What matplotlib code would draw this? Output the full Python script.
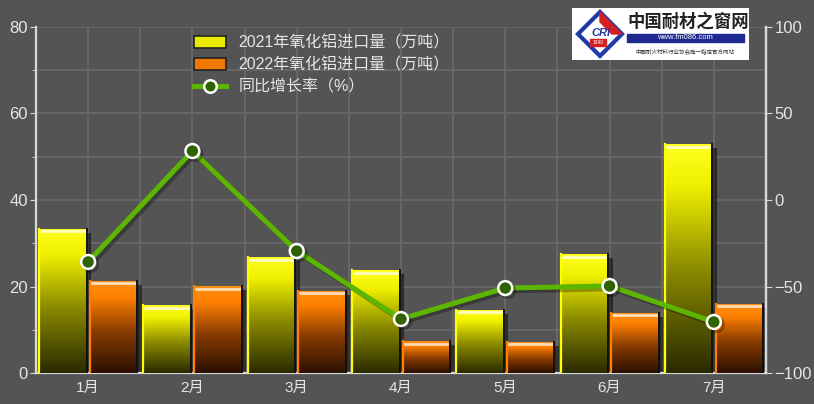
import numpy as np
import matplotlib.pyplot as plt
import matplotlib.patheffects as pe
import matplotlib.transforms as mtransforms
from matplotlib.colors import LinearSegmentedColormap
from matplotlib.patches import Rectangle, Polygon, Patch
from matplotlib.lines import Line2D

months = ['1月', '2月', '3月', '4月', '5月', '6月', '7月']
import_2021 = [33.3, 15.7, 26.8, 23.8, 14.6, 27.5, 52.9]   # 万吨
import_2022 = [21.3, 20.1, 19.0, 7.4, 7.2, 13.9, 16.0]     # 万吨
growth = [-35.8, 28.3, -29.5, -68.8, -50.9, -49.7, -70.5]  # %

label_2021 = '2021年氧化铝进口量（万吨）'
label_2022 = '2022年氧化铝进口量（万吨）'
label_growth = '同比增长率（%）'

plt.rcParams['font.family'] = ['Liberation Sans', 'Noto Sans CJK SC', 'DejaVu Sans']

bg = '#545454'
grid_c = '#666666'
text_c = '#e6e6e6'
axis_c = '#d8d8d8'

yellow_cmap = LinearSegmentedColormap.from_list(
    'yel', [(0, '#2a2a00'), (0.45, '#8a8a00'), (0.82, '#f0f000'), (1, '#ffff20')])
orange_cmap = LinearSegmentedColormap.from_list(
    'org', [(0, '#2a1000'), (0.45, '#8a3c00'), (0.82, '#ff8000'), (1, '#ff9010')])

fig = plt.figure(figsize=(8.14, 4.04), dpi=100, facecolor=bg)
ax = fig.add_axes([0.0442, 0.0767, 0.8968, 0.8565])
ax.set_facecolor(bg)

x = np.arange(len(months))
w = 0.465
grad = np.linspace(0, 1, 256).reshape(-1, 1)
shadow = [pe.SimplePatchShadow(offset=(3, -3), shadow_rgbFace='black', alpha=0.5), pe.Normal()]
hl = mtransforms.offset_copy(ax.transData, fig=fig, x=0, y=-2.5, units='dots')


def gradient_bars(xpos, values, cmap, edge):
    bars = ax.bar(xpos, values, width=w, color=cmap(0.5), edgecolor='none',
                  zorder=2, path_effects=shadow)
    for b in bars:
        x0, h, bw = b.get_x(), b.get_height(), b.get_width()
        im = ax.imshow(grad, cmap=cmap, origin='lower', aspect='auto',
                       extent=[x0, x0 + bw, 0, h], zorder=3)
        im.set_clip_path(b)
        ax.plot([x0 + 0.01, x0 + bw - 0.01], [h, h], color='white', lw=2,
                alpha=0.7, transform=hl, zorder=4, solid_capstyle='butt')
        ax.plot([x0 + 0.006, x0 + 0.006], [0, h], color=edge, lw=1.6, zorder=4)
        ax.plot([x0 + bw - 0.004, x0 + bw - 0.004], [0, h], color='#111111',
                lw=1.4, zorder=4)


gradient_bars(x - w / 2 - 0.01, import_2021, yellow_cmap, '#ffff00')
gradient_bars(x + w / 2 + 0.01, import_2022, orange_cmap, '#ff8000')

ax.set_xlim(-0.5, len(months) - 0.5)
ax.set_ylim(0, 80)
ax.set_yticks([0, 20, 40, 60, 80])
ax.set_yticks(np.arange(0, 81, 10), minor=True)
ax.set_xticks(x)
ax.set_xticklabels(months)
ax.set_xticks(np.arange(0.5, len(months) - 0.5, 1), minor=True)
ax.grid(True, which='both', color=grid_c, lw=1.5, zorder=0)
ax.set_axisbelow(True)
ax.tick_params(axis='x', which='both', length=0, colors=text_c, labelsize=11, pad=6)
ax.tick_params(axis='y', which='major', length=4, color=axis_c, labelcolor=text_c,
               labelsize=12, pad=2)
ax.tick_params(axis='y', which='minor', length=3, color=axis_c)

ax.spines['top'].set_visible(False)
for s in ['left', 'bottom', 'right']:
    ax.spines[s].set_color(axis_c)
    ax.spines[s].set_linewidth(1.6)

ax2 = ax.twinx()
ax2.set_ylim(-100, 100)
ax2.set_yticks([-100, -50, 0, 50, 100])
ax2.tick_params(axis='y', length=4, color=axis_c, labelcolor=text_c, labelsize=12, pad=2)
for s in ['top', 'left', 'bottom']:
    ax2.spines[s].set_visible(False)
ax2.spines['right'].set_color(axis_c)
ax2.spines['right'].set_linewidth(1.6)
ax2.plot(x, growth, color='#5cb500', lw=3.6, marker='o', ms=10,
         mfc='#2f6200', mec='white', mew=1.8, zorder=5,
         path_effects=[pe.SimpleLineShadow(offset=(2, -2), alpha=0.3), pe.Normal()])

handles = [
    Patch(facecolor='#eaea00', edgecolor='#222222', lw=1.2),
    Patch(facecolor='#f07800', edgecolor='#222222', lw=1.2),
    Line2D([0], [0], color='#5cb500', lw=3.6, marker='o', ms=9,
           mfc='#2f6200', mec='white', mew=1.8),
]
leg = fig.legend(handles, [label_2021, label_2022, label_growth],
                 loc='upper left', bbox_to_anchor=(0.238, 0.912), frameon=False,
                 fontsize=11.5, labelcolor=text_c, handlelength=2.0,
                 handleheight=0.75, handletextpad=0.8, labelspacing=0.42,
                 borderaxespad=0, borderpad=0)

# logo box in the top right corner
lg = fig.add_axes([0.7027, 0.8515, 0.2174, 0.1287])
lg.set_xlim(0, 177)
lg.set_ylim(0, 52)
lg.set_facecolor('white')
lg.set_xticks([])
lg.set_yticks([])
for s in lg.spines.values():
    s.set_visible(False)
lg.add_patch(Polygon([[28, 48], [50, 26], [28, 4], [6, 26]], closed=True,
                     fill=False, edgecolor='#1f3aa8', lw=3))
lg.add_patch(Polygon([[28, 48], [50, 26], [40, 26], [28, 38]], closed=True,
                     color='#d42020'))
lg.add_patch(Rectangle((18, 14), 16, 7, color='#d42020'))
lg.text(29, 27, 'CRI', color='#1f3aa8', fontsize=8, fontweight='bold',
        ha='center', va='center', style='italic')
lg.text(26, 17.5, '1990', color='white', fontsize=3.5, ha='center', va='center')
lg.text(116, 38, '中国耐材之窗网', color='#222222', fontsize=12.5, fontweight='bold',
        ha='center', va='center', family=['Noto Sans CJK SC'])
lg.add_patch(Rectangle((55, 18), 117, 8, color='#1f2a90'))
lg.text(113, 22, 'www.fm086.com', color='white', fontsize=5.5,
        ha='center', va='center')
lg.text(113, 9, '中国耐火材料行业协会唯一指定官方网站', color='#333333',
        fontsize=4, ha='center', va='center', family=['Noto Sans CJK SC'])

fig.savefig('out.png', dpi=100, facecolor=bg)
